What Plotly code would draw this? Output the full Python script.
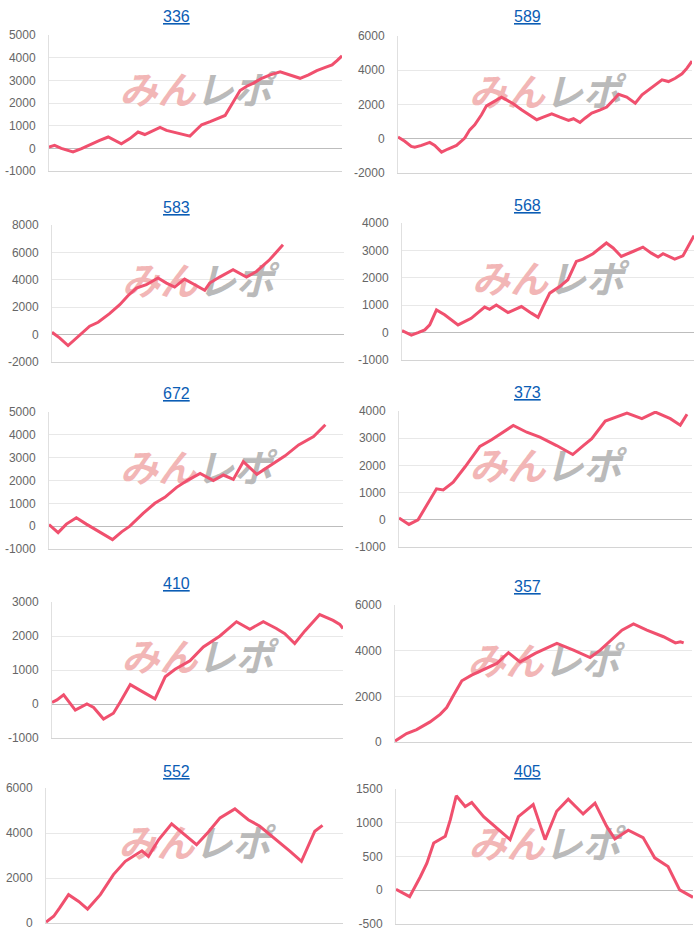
import plotly.graph_objects as go

W, H = 700, 942

titles = ["336", "589", "583", "568", "672", "373", "410", "357", "552", "405"]

# progress along the x axis (0-100) and values
x336 = [0, 1.9, 4.2, 8.2, 11.1, 14.5, 17.3, 20.2, 22.5, 24.7, 27.6, 30.4, 32.7, 35.6, 37.9, 40.1, 43.0, 45.3, 48.1, 50.4,
        52.1, 55.0, 57.8, 60.1, 61.8, 63.5, 65.2, 67.5, 69.8, 72.6, 75.5, 78.9, 82.3, 85.7, 88.6, 91.4, 94.3, 96.6, 98.3, 100]
y336 = [60, 130, 0, -160, -10, 200, 350, 500, 350, 200, 430, 720, 610, 790, 920, 790, 690, 640, 540, 830,
        1040, 1180, 1330, 1450, 1810, 2180, 2550, 2740, 2880, 3090, 3240, 3380, 3240, 3090, 3240, 3430, 3570, 3680, 3870, 4080]

x589 = [0, 2.3, 4.5, 5.7, 8.0, 10.8, 12.5, 14.8, 17.0, 19.9, 22.7, 24.4, 26.1, 28.4, 30.1, 32.4, 35.2, 36.9, 39.2, 42.0,
        44.9, 47.2, 49.4, 52.3, 55.1, 58.0, 59.7, 61.9, 63.6, 65.9, 68.8, 71.0, 73.3, 75.0, 77.8, 80.7, 83.0, 86.4, 89.8, 92.0,
        94.3, 96.6, 98.3, 100]
y589 = [100, -150, -450, -500, -390, -210, -390, -780, -600, -390, 40, 520, 810, 1400, 1920, 2140, 2430, 2270, 2040, 1690,
        1340, 1110, 1260, 1460, 1260, 1070, 1170, 950, 1200, 1500, 1690, 1850, 2270, 2600, 2430, 2080, 2560, 3010, 3440, 3340,
        3530, 3790, 4120, 4540]

x583 = [0, 2.6, 5.5, 9.5, 12.9, 15.8, 19.7, 23.2, 26.0, 28.9, 32.3, 36.3, 39.2, 42.0, 45.4, 48.9, 52.3, 54.0, 57.4, 62.0,
        66.6, 70.0, 74.5, 79.1]
y583 = [170, -240, -800, 0, 610, 900, 1530, 2180, 2840, 3400, 3640, 4130, 3760, 3470, 4050, 3640, 3230, 3760, 4200, 4730,
        4200, 4610, 5460, 6550]

x568 = [0, 3.2, 5.5, 7.8, 9.5, 11.8, 14.6, 19.2, 23.7, 28.3, 30.0, 32.3, 36.3, 40.9, 44.3, 46.6, 48.3, 50.6, 54.0, 56.8,
        59.7, 62.0, 65.4, 70.0, 72.3, 75.1, 79.1, 82.5, 85.4, 87.7, 89.4, 93.4, 96.2, 97.4, 100]
y568 = [70, -90, 0, 100, 280, 830, 650, 280, 520, 930, 850, 1010, 730, 950, 710, 560, 950, 1440, 1680, 1930,
        2600, 2680, 2880, 3270, 3090, 2780, 2960, 3120, 2900, 2760, 2880, 2680, 2800, 3020, 3540]

x672 = [0, 3.1, 5.9, 9.3, 12.7, 17.3, 21.6, 24.7, 27.5, 32.0, 36.0, 39.4, 43.4, 47.4, 51.4, 55.9, 59.3, 62.7, 66.1, 70.7,
        75.2, 80.3, 84.9, 90.0, 94.0]
y672 = [70, -280, 90, 370, 90, -250, -590, -250, 0, 560, 1000, 1260, 1700, 2030, 2310, 2000, 2240, 2050, 2830, 2270,
        2640, 3080, 3560, 3920, 4440]

x373 = [0, 3.4, 6.5, 9.6, 12.8, 15.1, 18.5, 22.5, 27.6, 31.6, 35.6, 39.0, 43.6, 48.1, 53.8, 59.3, 62.9, 65.8, 70.4, 74.3,
        77.8, 82.9, 87.5, 92.6, 96.0, 98.3]
y373 = [70, -170, 0, 560, 1140, 1100, 1380, 1940, 2700, 2940, 3220, 3470, 3220, 3040, 2730, 2400, 2730, 2980, 3630, 3770,
        3920, 3720, 3960, 3720, 3480, 3880]

x410 = [0, 1.7, 4.0, 8.0, 12.0, 14.3, 17.7, 21.1, 23.4, 26.9, 30.9, 35.4, 38.9, 42.3, 47.4, 52.0, 57.7, 63.4, 68.0, 72.6,
        77.1, 80.0, 83.4, 86.9, 92.0, 96.6, 98.9, 100]
y410 = [50, 120, 270, -180, 0, -100, -440, -270, 50, 570, 370, 150, 800, 1020, 1270, 1680, 2000, 2420, 2200, 2420,
        2220, 2070, 1780, 2150, 2630, 2460, 2340, 2220]

x357 = [0, 3.9, 7.3, 11.8, 15.2, 17.4, 19.7, 22.5, 25.8, 29.8, 34.3, 38.2, 42.1, 47.2, 54.5, 60.1, 65.7, 69.1, 73.6, 76.4,
        80.3, 84.8, 90.4, 94.4, 96.1, 97.2]
y357 = [40, 370, 540, 880, 1210, 1510, 2050, 2680, 2930, 3180, 3440, 3910, 3510, 3880, 4320, 4020, 3700, 4020, 4540, 4900,
        5170, 4900, 4610, 4340, 4390, 4340]

x552 = [0, 2.6, 4.6, 7.6, 11.0, 14.0, 18.3, 22.7, 26.7, 29.5, 32.3, 34.5, 37.9, 42.3, 46.8, 50.7, 54.6, 58.6, 63.6, 68.1,
        72.0, 77.6, 82.1, 86.0, 90.5, 93.1]
y552 = [40, 300, 670, 1260, 960, 620, 1260, 2150, 2740, 2960, 3210, 2960, 3700, 4410, 3930, 3480, 4030, 4670, 5070, 4590,
        4300, 3700, 3190, 2740, 4080, 4340]

x405 = [0, 4.6, 8.2, 10.4, 12.7, 16.6, 18.3, 20.3, 23.3, 25.5, 29.5, 33.9, 38.4, 41.2, 46.2, 50.2, 54.1, 58.0, 63.0, 67.0,
        70.9, 73.7, 78.2, 83.2, 87.1, 91.6, 95.5, 100]
y405 = [15, -95, 200, 400, 700, 800, 1045, 1400, 1240, 1300, 1090, 920, 750, 1090, 1270, 750, 1170, 1350, 1130, 1290,
        950, 760, 890, 780, 480, 350, 5, -105]

xs = [x336, x589, x583, x568, x672, x373, x410, x357, x552, x405]
ys = [y336, y589, y583, y568, y672, y373, y410, y357, y552, y405]

# y-axis ranges and tick steps
yranges = [(-1000, 5000, 1000), (-2000, 6000, 2000), (-2000, 8000, 2000), (-1000, 4000, 1000),
           (-1000, 5000, 1000), (-1000, 4000, 1000), (-1000, 3000, 1000), (0, 6000, 2000),
           (0, 6000, 2000), (-500, 1500, 500)]

# layout: plot areas in pixels (left, right, top, bottom)
boxes = [(49, 342, 35, 171), (398, 692, 36, 173),
         (52, 344, 225, 362), (402, 694, 223, 360),
         (49, 343, 412, 549), (399, 692, 411, 547),
         (52, 343, 602, 738), (395, 692, 605, 742),
         (46, 343, 788, 923), (396, 693, 789, 924)]
title_y = [17, 17, 207, 205, 393, 392, 583, 586, 771, 771]

LINE = "#f0506e"
FONT = "Liberation Sans, Arial, sans-serif"
CJK = "Noto Sans CJK JP"
MARK = ("<b><i><span style='color:#f2b6b6'>みん</span>"
        "<span style='color:#bababa'>レポ</span></i></b>")

fig = go.Figure()
annotations = []

for i in range(10):
    n = "" if i == 0 else str(i + 1)
    xa, ya = "x" + n, "y" + n
    lo, hi, step = yranges[i]
    l, r, t, b = boxes[i]

    # watermark (behind the line)
    wy = lo + 0.56 * (hi - lo)
    fig.add_trace(go.Scatter(x=[50], y=[wy], mode="text", text=[MARK],
                             textfont=dict(family=CJK, size=38, color="#bababa"),
                             cliponaxis=False,
                             xaxis=xa, yaxis=ya, hoverinfo="skip", showlegend=False))

    fig.add_trace(go.Scatter(x=xs[i], y=ys[i], mode="lines",
                             line=dict(color=LINE, width=3),
                             xaxis=xa, yaxis=ya, hoverinfo="skip", showlegend=False))

    tv = list(range(lo, hi + 1, step))
    fig.layout["xaxis" + n] = dict(domain=[l / W, r / W], range=[0, 100], anchor=ya,
                                   showgrid=False, zeroline=False, showticklabels=False,
                                   automargin=False,
                                   showline=True, linecolor="#d4d4d4", linewidth=1, fixedrange=True)
    fig.layout["yaxis" + n] = dict(domain=[1 - b / H, 1 - t / H], range=[lo, hi], anchor=xa,
                                   tickmode="array", tickvals=tv, ticktext=[str(v) for v in tv],
                                   automargin=False,
                                   showgrid=True, gridcolor="#e8e8e8", gridwidth=1,
                                   zeroline=True, zerolinecolor="#bdbdbd", zerolinewidth=1,
                                   showline=True, linecolor="#e0e0e0", linewidth=1,
                                   ticks="", ticklabelstandoff=10,
                                   tickfont=dict(family=FONT, size=12, color="#666666"),
                                   fixedrange=True)

    cx = 177 if i % 2 == 0 else 527
    annotations.append(dict(text="<u>" + titles[i] + "</u>", x=cx / W, y=1 - title_y[i] / H,
                            xref="paper", yref="paper", xanchor="center", yanchor="middle",
                            showarrow=False, font=dict(family=FONT, size=16, color="#0b5db5")))

fig.update_layout(width=W, height=H, margin=dict(l=0, r=0, t=0, b=0, pad=0, autoexpand=False),
                  paper_bgcolor="white", plot_bgcolor="white",
                  annotations=annotations, showlegend=False)

fig.write_html("out.html", config={"displayModeBar": False},
               post_script="document.body.style.margin='0';document.body.style.padding='0';")
